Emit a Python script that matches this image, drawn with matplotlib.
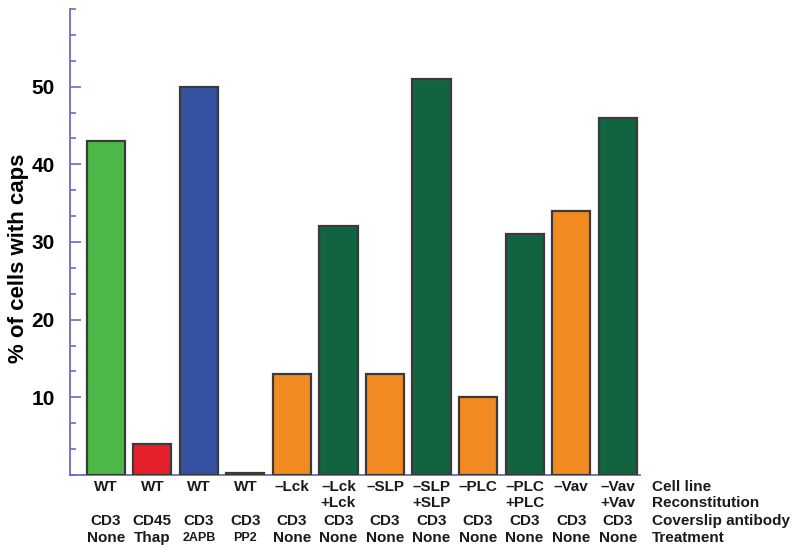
import matplotlib.pyplot as plt
import numpy as np
from matplotlib.ticker import MultipleLocator

plt.rcParams['font.family'] = ['Liberation Sans', 'DejaVu Sans']

cell_line = ['WT', 'WT', 'WT', 'WT', '–Lck', '–Lck', '–SLP', '–SLP', '–PLC', '–PLC', '–Vav', '–Vav']
reconst = ['', '', '', '', '', '+Lck', '', '+SLP', '', '+PLC', '', '+Vav']
antibody = ['CD3', 'CD45', 'CD3', 'CD3', 'CD3', 'CD3', 'CD3', 'CD3', 'CD3', 'CD3', 'CD3', 'CD3']
treatment = ['None', 'Thap', '2APB', 'PP2', 'None', 'None', 'None', 'None', 'None', 'None', 'None', 'None']
pct_caps = [43, 4, 50, 0.3, 13, 32, 13, 51, 10, 31, 34, 46]
bar_colors = ['#4db848', '#e5202a', '#3451a2', '#2e3f7a', '#f28a22', '#12633f',
              '#f28a22', '#12633f', '#f28a22', '#12633f', '#f28a22', '#12633f']
row_names = ['Cell line', 'Reconstitution', 'Coverslip antibody', 'Treatment']

fig = plt.figure(figsize=(8, 5.56), dpi=100)
ax = fig.add_axes([0.0875, 0.1457, 0.7125, 0.8381])

x = np.arange(len(pct_caps))
ax.bar(x, pct_caps, width=0.82, color=bar_colors, edgecolor='#3a3a3a', linewidth=1.6, zorder=3)

ax.set_xlim(-0.77, 11.48)
ax.set_ylim(0, 60)
ax.yaxis.set_minor_locator(MultipleLocator(10 / 3))
ax.set_yticks([10, 20, 30, 40, 50])
ax.set_yticklabels(['10', '20', '30', '40', '50'], fontsize=15, fontweight='bold')
ax.tick_params(axis='y', which='major', direction='in', length=8, width=1.2, color='#6b6bc4', pad=11)
ax.tick_params(axis='y', which='minor', direction='in', length=4, width=1.2, color='#6b6bc4')
ax.set_xticks([])

for s in ['top', 'right']:
    ax.spines[s].set_visible(False)
for s in ['left', 'bottom']:
    ax.spines[s].set_color('#6b6bc4')
    ax.spines[s].set_linewidth(1.3)

ax.set_ylabel('% of cells with caps', fontsize=16, fontweight='bold')
ax.yaxis.set_label_coords(-0.072, 0.465)

tr = ax.get_xaxis_transform()
rows = [cell_line, reconst, antibody, treatment]
row_y = [-0.026, -0.061, -0.099, -0.136]
for r, yy in zip(rows, row_y):
    for i, lab in enumerate(r):
        fs = 11
        if lab in ('2APB', 'PP2'):
            fs = 9
        ax.text(x[i], yy, lab, transform=tr, ha='center', va='center',
                fontsize=fs, fontweight='bold', color='#1a1a1a')

for name, yy in zip(row_names, row_y):
    ax.text(1.021, yy, name, transform=ax.transAxes, ha='left', va='center',
            fontsize=11, fontweight='bold', color='#1a1a1a')

fig.savefig('out.png', dpi=100)
